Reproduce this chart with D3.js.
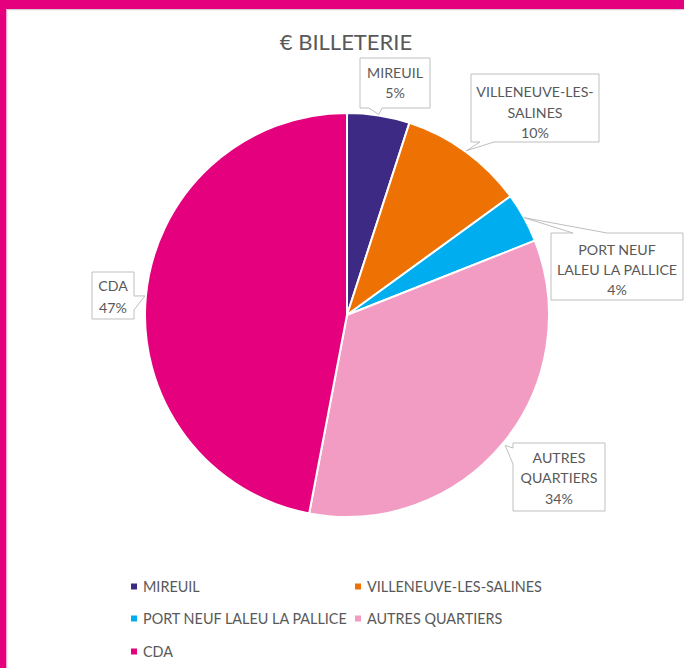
<!DOCTYPE html>
<html>
<head>
<meta charset="utf-8">
<script src="https://cdn.jsdelivr.net/npm/d3@7"></script>
<style>
  html, body { margin: 0; padding: 0; background: #fff; }
  svg { display: block; }
  text { font-family: Lato, "Open Sans", sans-serif; fill: #595959; }
</style>
</head>
<body>
<script>
// Ticket revenue share by district
const categories = ["MIREUIL", "VILLENEUVE-LES-SALINES", "PORT NEUF LALEU LA PALLICE", "AUTRES QUARTIERS", "CDA"];
const values = [5, 10, 4, 34, 47];
const labelLines = [["MIREUIL"], ["VILLENEUVE-LES-", "SALINES"], ["PORT NEUF", "LALEU LA PALLICE"], ["AUTRES", "QUARTIERS"], ["CDA"]];
const colors = ["#3C2A84", "#EE7203", "#00AEEF", "#F29CC4", "#E5007D"];
const title = "€ BILLETERIE";

const W = 684, H = 668;
const cx = 347, cy = 315, R = 202;

const svg = d3.select("body").append("svg").attr("width", W).attr("height", H);

// frame: magenta bands on top and left
svg.append("rect").attr("x", 0).attr("y", 0).attr("width", W).attr("height", 9).attr("fill", "#E5007D");
svg.append("rect").attr("x", 6).attr("y", 9).attr("width", W - 6).attr("height", 1.2).attr("fill", "#D9C9D2");
svg.append("rect").attr("x", 0).attr("y", 0).attr("width", 6).attr("height", H).attr("fill", "#E5007D");
svg.append("rect").attr("x", 6).attr("y", 9).attr("width", 1.2).attr("height", H).attr("fill", "#F3A8CF");

svg.append("text").attr("x", 346).attr("y", 50).attr("text-anchor", "middle")
  .style("font-size", "22px").text(title);

const pie = d3.pie().sort(null).value(d => d)(values);
const arc = d3.arc().innerRadius(0).outerRadius(R);

const g = svg.append("g").attr("transform", `translate(${cx},${cy})`);
g.selectAll("path").data(pie).join("path")
  .attr("d", arc)
  .attr("fill", (d, i) => colors[i])
  .attr("stroke", "#fff").attr("stroke-width", 2).attr("stroke-linejoin", "round");

// callout boxes: box [x0,y0,x1,y1], side of the pointer, pointer base span, pointer tip angle and radius
const callouts = [
  { box: [360, 58, 430, 108], side: "bottom", base: [369, 382], tipAngle: null, tipR: 1, lineY: [78, 98] },
  { box: [471, 74, 599, 142], side: "bottom", base: [480, 494], tipAngle: null, tipR: 1, lineY: [97, 118, 138] },
  { box: [551, 233, 683, 300], side: "top", base: [573, 607], tipAngle: null, tipR: 0, lineY: [255, 275, 295] },
  { box: [513, 443, 605, 511], side: "left", base: [448, 464], tipAngle: 129.5, tipR: 3, lineY: [463, 483, 504] },
  { box: [92, 272, 134, 319], side: "right", base: [296, 310], tipAngle: null, tipR: 1, lineY: [291, 313] }
];

function tipPoint(d, c) {
  const a = c.tipAngle != null ? c.tipAngle * Math.PI / 180 : (d.startAngle + d.endAngle) / 2;
  const r = R + c.tipR;
  return [cx + r * Math.sin(a), cy - r * Math.cos(a)];
}

function calloutPath(c, tip) {
  const [x0, y0, x1, y1] = c.box, [b0, b1] = c.base;
  let pts;
  if (c.side === "bottom") pts = [[x0, y0], [x1, y0], [x1, y1], [b1, y1], tip, [b0, y1], [x0, y1]];
  else if (c.side === "top") pts = [[x0, y0], [b0, y0], tip, [b1, y0], [x1, y0], [x1, y1], [x0, y1]];
  else if (c.side === "right") pts = [[x0, y0], [x1, y0], [x1, b0], tip, [x1, b1], [x1, y1], [x0, y1]];
  else pts = [[x0, y0], [x1, y0], [x1, y1], [x0, y1], [x0, b1], tip, [x0, b0]];
  return "M" + pts.map(p => p.join(",")).join("L") + "Z";
}

const labels = svg.append("g");
pie.forEach((d, i) => {
  const c = callouts[i];
  const tip = tipPoint(d, c);
  labels.append("path").attr("d", calloutPath(c, tip))
    .attr("fill", "#fff").attr("stroke", "#BFBFBF").attr("stroke-width", 1);
  const mx = (c.box[0] + c.box[2]) / 2;
  const lines = labelLines[i].concat([values[i] + "%"]);
  lines.forEach((t, k) => {
    labels.append("text").attr("x", mx).attr("y", c.lineY[k])
      .attr("text-anchor", "middle").style("font-size", "14.2px").text(t);
  });
});

// legend
const legendPos = [[131, 587], [355, 587], [131, 619], [355, 619], [131, 652]];
const legend = svg.append("g");
categories.forEach((name, i) => {
  const [lx, ly] = legendPos[i];
  legend.append("rect").attr("x", lx).attr("y", ly - 3.5).attr("width", 6).attr("height", 6).attr("fill", colors[i]);
  legend.append("text").attr("x", lx + 12).attr("y", ly + 5).style("font-size", "14.4px").text(name);
});
</script>
</body>
</html>
